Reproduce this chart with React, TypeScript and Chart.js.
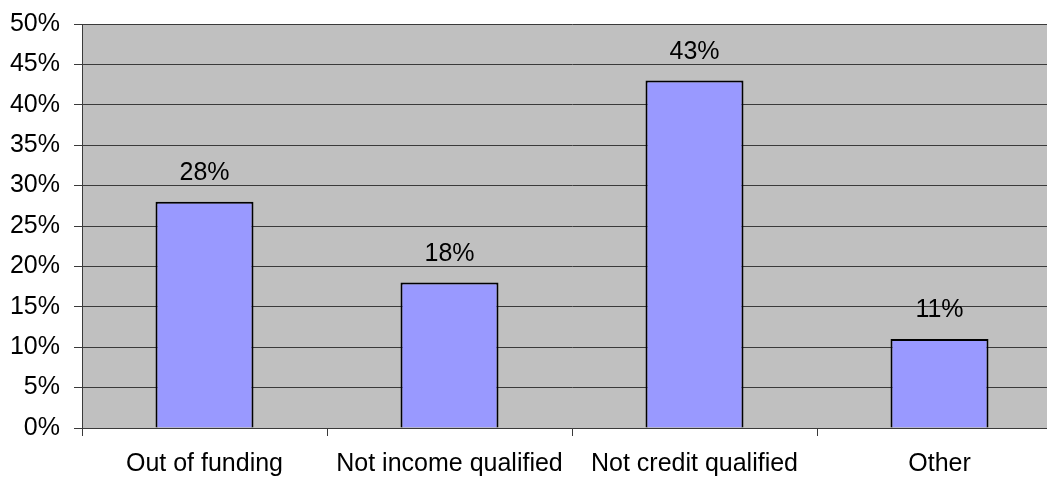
import React, { useEffect, useRef } from "react";
import { Chart, registerables } from "chart.js";

Chart.register(...registerables);

const categories = ["Out of funding", "Not income qualified", "Not credit qualified", "Other"];
const values = [28, 18, 43, 11];
const yTickLabels = [0, 5, 10, 15, 20, 25, 30, 35, 40, 45, 50];

const FONT = "'Liberation Sans', Arial, sans-serif";

const bgPlugin = {
  id: "plotBg",
  beforeDraw(chart: any) {
    const { ctx, chartArea } = chart;
    ctx.save();
    ctx.fillStyle = "#c0c0c0";
    ctx.fillRect(chartArea.left, chartArea.top, chartArea.right - chartArea.left, chartArea.bottom - chartArea.top);
    ctx.restore();
  },
};

const labelPlugin = {
  id: "barLabels",
  afterDatasetsDraw(chart: any) {
    const { ctx } = chart;
    const meta = chart.getDatasetMeta(0);
    ctx.save();
    ctx.fillStyle = "#000";
    ctx.font = `25px ${FONT}`;
    ctx.textAlign = "center";
    ctx.textBaseline = "alphabetic";
    meta.data.forEach((bar: any, i: number) => {
      ctx.fillText(values[i] + "%", bar.x, bar.y - 22);
    });
    ctx.restore();
  },
};

export default function App() {
  const ref = useRef<HTMLCanvasElement>(null);
  useEffect(() => {
    if (!ref.current) return;
    const chart = new Chart(ref.current, {
      type: "bar",
      data: {
        labels: categories,
        datasets: [
          {
            data: values,
            backgroundColor: "#9999ff",
            borderColor: "#000000",
            borderWidth: 2,
            barPercentage: 0.4,
            categoryPercentage: 1,
          },
        ],
      },
      options: {
        animation: false,
        responsive: false,
        maintainAspectRatio: false,
        layout: { padding: { top: 24, left: 0, right: 0, bottom: 0 } },
        plugins: { legend: { display: false }, tooltip: { enabled: false } },
        scales: {
          x: {
            offset: true,
            grid: {
              offset: true,
              drawOnChartArea: false,
              drawTicks: true,
              tickLength: 8,
              color: "#3a3a3a",
            },
            border: { display: true, color: "#3a3a3a", width: 1 },
            ticks: {
              color: "#000",
              font: { family: FONT, size: 25 },
              padding: 13,
              maxRotation: 0,
              autoSkip: false,
            },
            afterFit(scale: any) {
              scale.height = 49;
              scale.paddingLeft = 0;
              scale.paddingRight = 0;
            },
          },
          y: {
            min: 0,
            max: 50,
            afterBuildTicks(scale: any) {
              scale.ticks = yTickLabels.map((v) => ({ value: v }));
            },
            grid: { color: "#3a3a3a", tickLength: 8, lineWidth: 1 },
            border: { display: true, color: "#3a3a3a", width: 1 },
            ticks: {
              color: "#000",
              font: { family: FONT, size: 25 },
              padding: 14,
              callback: (v: any) => v + "%",
            },
            afterFit(scale: any) {
              scale.width = 82;
              scale.paddingTop = 0;
              scale.paddingBottom = 0;
            },
          },
        },
      },
      plugins: [bgPlugin, labelPlugin],
    });
    return () => chart.destroy();
  }, []);
  return (
    <div style={{ position: "fixed", left: 0, top: 0, width: 1047, height: 477, overflow: "hidden", background: "#fff" }}>
      <canvas ref={ref} width={1062} height={477} style={{ width: 1062, height: 477, display: "block" }} />
    </div>
  );
}
